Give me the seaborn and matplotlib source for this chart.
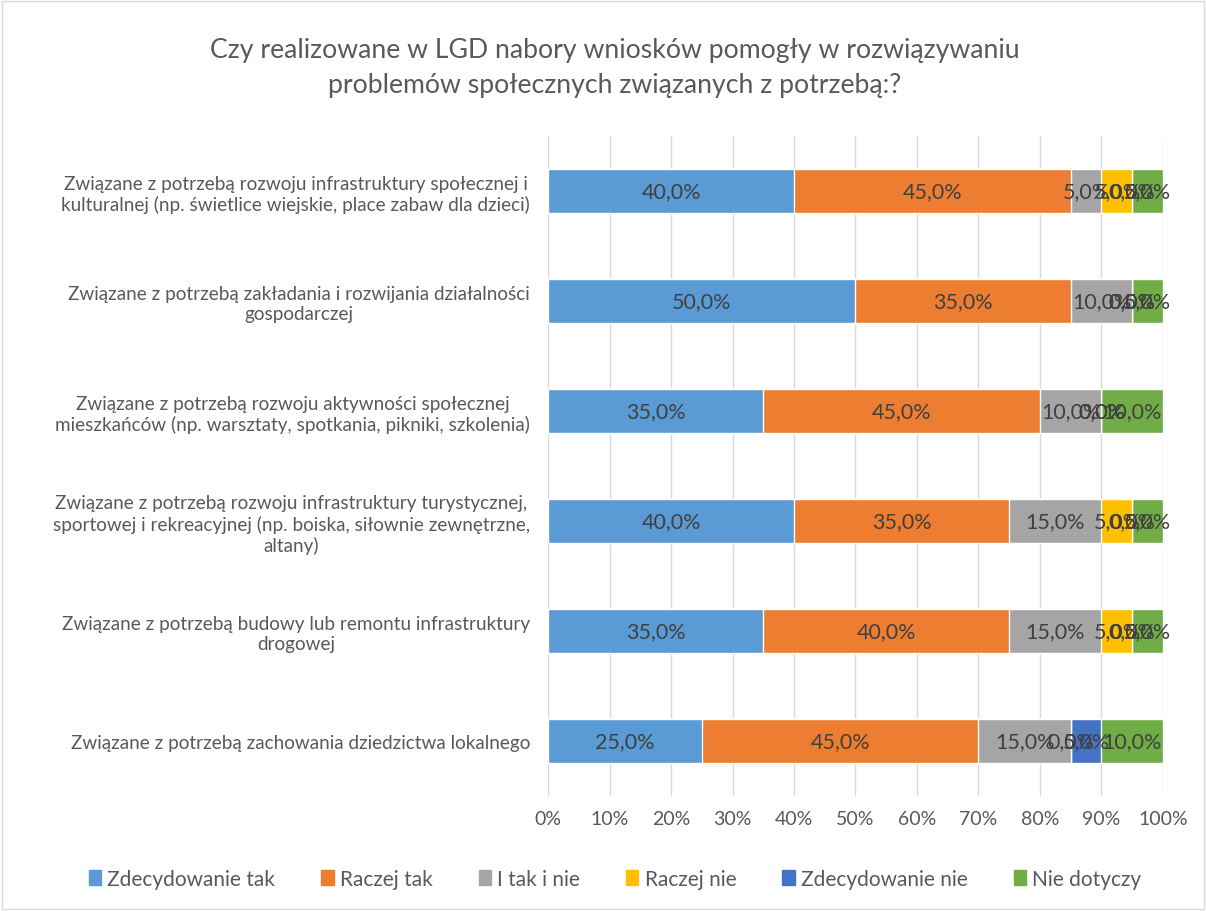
import matplotlib
matplotlib.use("Agg")
import matplotlib.pyplot as plt
import seaborn as sns
import pandas as pd
import numpy as np
from matplotlib.patches import Rectangle

categories = [
    "Związane z potrzebą rozwoju infrastruktury społecznej i\nkulturalnej (np. świetlice wiejskie, place zabaw dla dzieci)",
    "Związane z potrzebą zakładania i rozwijania działalności\ngospodarczej",
    "Związane z potrzebą rozwoju aktywności społecznej\nmieszkańców (np. warsztaty, spotkania, pikniki, szkolenia)",
    "Związane z potrzebą rozwoju infrastruktury turystycznej,\nsportowej i rekreacyjnej (np. boiska, siłownie zewnętrzne,\naltany)",
    "Związane z potrzebą budowy lub remontu infrastruktury\ndrogowej",
    "Związane z potrzebą zachowania dziedzictwa lokalnego",
]
series_names = ["Zdecydowanie tak", "Raczej tak", "I tak i nie", "Raczej nie",
                "Zdecydowanie nie", "Nie dotyczy"]
zdecydowanie_tak = [40, 50, 35, 40, 35, 25]
raczej_tak = [45, 35, 45, 35, 40, 45]
i_tak_i_nie = [5, 10, 10, 15, 15, 15]
raczej_nie = [5, 0, 0, 5, 5, 0]
zdecydowanie_nie = [0, 0, 0, 0, 0, 5]
nie_dotyczy = [5, 5, 10, 5, 5, 10]
x_ticks = [0, 10, 20, 30, 40, 50, 60, 70, 80, 90, 100]
colors = ["#5B9BD5", "#ED7D31", "#A5A5A5", "#FFC000", "#4472C4", "#70AD47"]

values = [zdecydowanie_tak, raczej_tak, i_tak_i_nie, raczej_nie, zdecydowanie_nie, nie_dotyczy]

sns.set_theme(style="white")
plt.rcParams["font.family"] = ["Lato", "DejaVu Sans"]

fig = plt.figure(figsize=(12.06, 9.12), dpi=100)
ax = fig.add_axes([548/1206, 1-797/912, (1163-548)/1206, (797-137)/912])

arr = np.array(values, dtype=float)
cum = np.cumsum(arr, axis=0)

# draw from last cumulative to first so earlier series overlay
for i in range(len(series_names)-1, -1, -1):
    df = pd.DataFrame({"cat": categories, "val": cum[i]})
    sns.barplot(data=df, x="val", y="cat", color=colors[i], ax=ax,
                width=0.4, orient="h", saturation=1, zorder=3)

ax.set_xlim(0, 100)
ax.set_xticks(x_ticks)
ax.set_xticklabels([f"{t}%" for t in x_ticks], color="#595959", fontsize=14)
ax.grid(axis="x", color="#D9D9D9", linewidth=1, zorder=0)
ax.set_axisbelow(True)
for s in ax.spines.values():
    s.set_visible(False)
ax.tick_params(axis="both", length=0, pad=10)
ax.set_xlabel("")
ax.set_ylabel("")
for lab in ax.get_yticklabels():
    lab.set_multialignment("center")
    lab.set_color("#595959")
    lab.set_fontsize(13.6)
ax.tick_params(axis="y", pad=13)

# data labels
for i in range(len(series_names)):
    for j in range(len(categories)):
        v = arr[i, j]
        center = cum[i, j] - v / 2
        ax.text(center, j, f"{v:.1f}%".replace(".", ","), ha="center", va="center",
                fontsize=15.5, color="#404040", zorder=5)

handles = [Rectangle((0, 0), 1, 1, color=c) for c in colors]
fig.legend(handles, series_names, loc="center", bbox_to_anchor=(0.51, 1-880/912),
           ncol=6, frameon=False, fontsize=15, handlelength=0.6, handleheight=0.7,
           handletextpad=0.3, columnspacing=2.2, labelcolor="#595959")

fig.text(0.51, 1-68/912, "Czy realizowane w LGD nabory wniosków pomogły w rozwiązywaniu\nproblemów społecznych związanych z potrzebą:?",
         ha="center", va="center", fontsize=19.2, color="#595959", linespacing=1.5)

fig.patches.append(Rectangle((0.002, 0.002), 0.996, 0.996, transform=fig.transFigure,
                             fill=False, edgecolor="#D9D9D9", linewidth=1))

fig.savefig("out.png", dpi=100, facecolor="white")
